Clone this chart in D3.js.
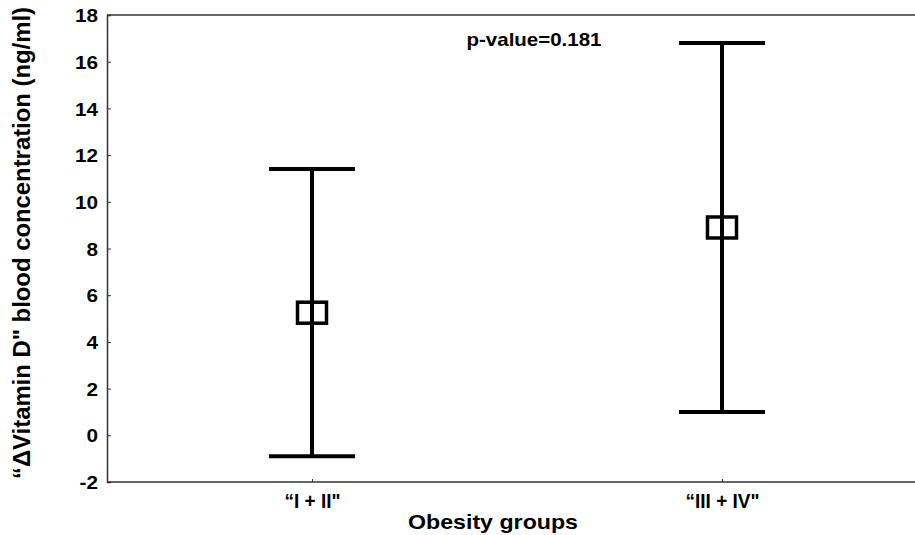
<!DOCTYPE html>
<html><head><meta charset="utf-8">
<script src="https://cdn.jsdelivr.net/npm/d3@7"></script>
<style>body{margin:0;background:#fff}svg{display:block}text{font-family:"Liberation Sans",Arial,sans-serif;font-weight:bold;fill:#000}</style>
</head><body>
<svg id="c" width="915" height="535"></svg>
<script>
const categories = ["“I + II\"", "“III + IV\""];
const means = [5.25, 8.9];
const upper = [11.4, 16.8];
const lower = [-0.9, 1.0];
const yTicks = [-2, 0, 2, 4, 6, 8, 10, 12, 14, 16, 18];
const catLabelWidths = [56, 74];

const svg = d3.select("#c");
const m = {l:107, t:15, r:915, b:482};
const y = d3.scaleLinear().domain([-2, 18]).range([m.b, m.t]);
const x = d3.scalePoint().domain(categories).range([312, 722]);

// frame
svg.append("line").attr("x1", m.l).attr("x2", m.r).attr("y1", m.t).attr("y2", m.t).attr("stroke", "#333").attr("stroke-width", 1.5);

const sx = 1.12;
const yAxis = svg.append("g").attr("transform", `translate(${m.l},0)`)
  .call(d3.axisLeft(y).tickValues(yTicks).tickSize(-4).tickFormat(d => String(d)));
yAxis.select(".domain").attr("stroke", "#333").attr("stroke-width", 1.5);
yAxis.selectAll(".tick line").attr("stroke", "#333");
yAxis.selectAll("text").style("font-size", "18.5px").attr("dy", "0.36em")
  .attr("x", -9 / sx).attr("transform", `scale(${sx},1)`);

const xAxis = svg.append("g").attr("transform", `translate(0,${m.b})`)
  .call(d3.axisBottom(x).tickSize(-3));
xAxis.select(".domain").attr("d", `M${m.l},0H${m.r}`).attr("stroke", "#333").attr("stroke-width", 1.5);
xAxis.selectAll(".tick line").attr("stroke", "#333");
xAxis.selectAll("text").style("font-size", "20px").attr("y", 25.5).attr("dy", null)
  .attr("textLength", (d, i) => catLabelWidths[i]).attr("lengthAdjust", "spacingAndGlyphs");

// whiskers
const capW = 43;
categories.forEach((c, i) => {
  const cx = x(c);
  const g = svg.append("g").attr("stroke", "#000").attr("stroke-width", 4).attr("fill", "none");
  g.append("line").attr("x1", cx).attr("x2", cx).attr("y1", y(upper[i])).attr("y2", y(lower[i]));
  g.append("line").attr("x1", cx - capW).attr("x2", cx + capW).attr("y1", y(upper[i])).attr("y2", y(upper[i]));
  g.append("line").attr("x1", cx - capW).attr("x2", cx + capW).attr("y1", y(lower[i])).attr("y2", y(lower[i]));
  g.append("rect").attr("x", cx - 14.5).attr("y", y(means[i]) - 10.5).attr("width", 29).attr("height", 21)
    .attr("fill", "#fff").attr("stroke-width", 3.5);
  g.append("line").attr("x1", cx).attr("x2", cx).attr("y1", y(means[i]) - 10.5).attr("y2", y(means[i]) + 10.5);
});

svg.append("text").attr("x", 534).attr("y", 45.5).attr("text-anchor", "middle").style("font-size", "19px")
  .attr("textLength", 135).attr("lengthAdjust", "spacingAndGlyphs").text("p-value=0.181");
svg.append("text").attr("x", 493).attr("y", 528.5).attr("text-anchor", "middle").style("font-size", "21px")
  .attr("textLength", 170).attr("lengthAdjust", "spacingAndGlyphs").text("Obesity groups");
svg.append("text").attr("transform", "translate(30,243) rotate(-90)").attr("text-anchor", "middle").style("font-size", "23px")
  .attr("textLength", 472).attr("lengthAdjust", "spacingAndGlyphs")
  .text("“ΔVitamin D\" blood concentration (ng/ml)");
</script>
</body></html>
